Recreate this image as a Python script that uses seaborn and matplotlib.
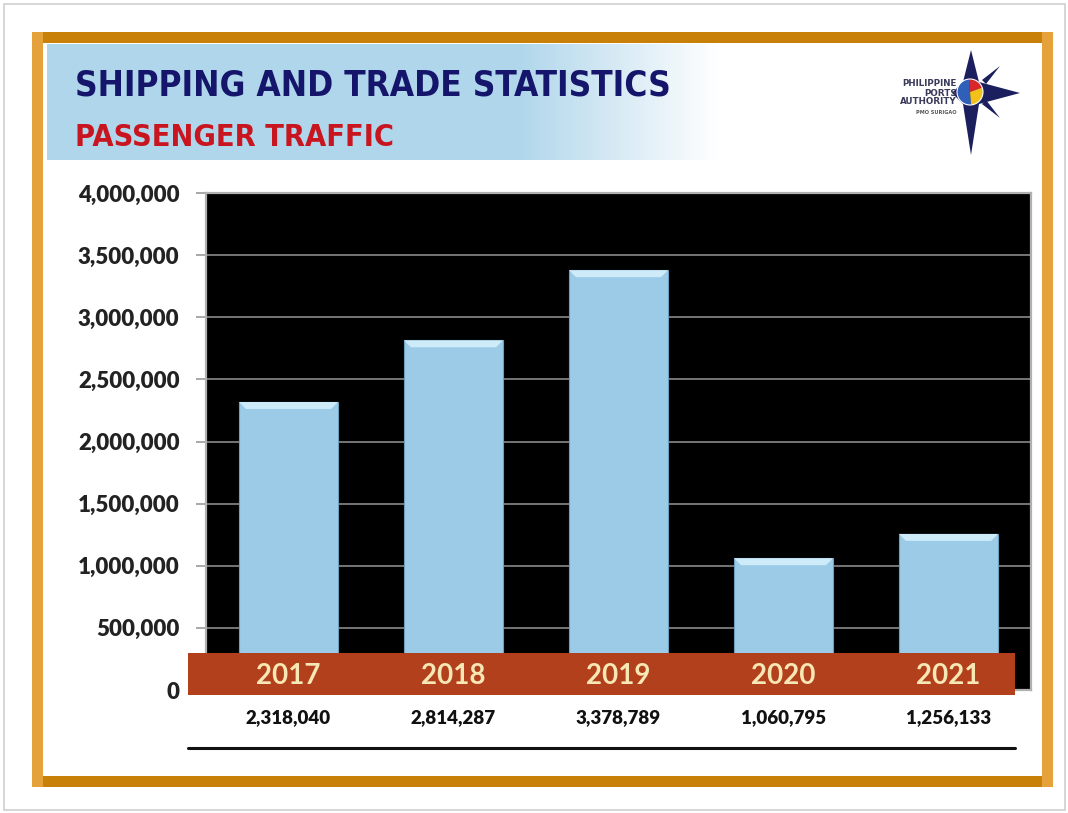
import numpy as np
import pandas as pd
import matplotlib
matplotlib.use("Agg")
import matplotlib.pyplot as plt
import matplotlib.transforms as mtransforms
from matplotlib.patches import Rectangle, Polygon, Wedge, Circle
from matplotlib.lines import Line2D
from matplotlib.ticker import FuncFormatter
import seaborn as sns

# Passenger traffic by year
years = ["2017", "2018", "2019", "2020", "2021"]
passengers = [2318040, 2814287, 3378789, 1060795, 1256133]
y_ticks = [0, 500000, 1000000, 1500000, 2000000, 2500000, 3000000, 3500000, 4000000]

title_main = "SHIPPING AND TRADE STATISTICS"
title_sub = "PASSENGER TRAFFIC"
logo_lines = ["PHILIPPINE", "PORTS", "AUTHORITY"]
logo_office = "PMO SURIGAO"

W, H = 1068, 813
sns.set_theme(style="white")
plt.rcParams["font.family"] = ["Lato", "DejaVu Sans"]

fig = plt.figure(figsize=(W / 100, H / 100), dpi=100)
fig.patch.set_facecolor("white")


def fy(y):
    return H - y


# ---- page background, frame and header -------------------------------------
bg = fig.add_axes([0, 0, 1, 1], zorder=-1)
bg.set_xlim(0, W)
bg.set_ylim(0, H)
bg.axis("off")

bg.add_patch(Rectangle((4, fy(810)), 1061, 806, fill=False, ec="#cfcfcf", lw=1.2))

gold_dark = "#c98009"
gold_light = "#e6a23a"
bg.add_patch(Rectangle((32, fy(43)), 1021, 11, fc=gold_dark, ec="none"))
bg.add_patch(Rectangle((32, fy(787)), 1021, 11, fc=gold_dark, ec="none"))
bg.add_patch(Rectangle((32, fy(787)), 11, 755, fc=gold_light, ec="none"))
bg.add_patch(Rectangle((1042, fy(787)), 11, 755, fc=gold_light, ec="none"))

# header band: light blue fading to white on the right
x0, x1, ytop, ybot = 47, 720, 45, 160
ncol = 400
xs = np.linspace(0, 1, ncol)
fade = np.clip((xs - 0.70) / 0.30, 0, 1)
base = np.array([0.69, 0.84, 0.92])
row = base[None, :] * (1 - fade[:, None]) + np.ones(3)[None, :] * fade[:, None]
grad = np.repeat(row[None, :, :], 2, axis=0)
bg.imshow(grad, extent=[x0, x1, fy(ybot), fy(ytop)], aspect="auto", zorder=1)

title_family = ["DejaVu Sans"]
bg.text(75, fy(95), title_main, color="#15166b", fontsize=25.2, fontweight="bold",
        fontstretch="condensed", family=title_family, va="baseline", ha="left", zorder=3)
bg.text(75, fy(146), title_sub, color="#c8151f", fontsize=22, fontweight="bold",
        fontstretch="condensed", family=title_family, va="baseline", ha="left", zorder=3)

# logo: compass star with round emblem
navy = "#1b1f5e"
cx, cy = 972, 92
star = [(971, fy(50)), (979, fy(82)), (1020, fy(93)), (979, fy(104)),
        (971, fy(155)), (963, fy(104)), (952, fy(93)), (963, fy(82))]
bg.add_patch(Polygon(star, closed=True, fc=navy, ec="none", zorder=2))
bg.add_patch(Polygon([(982, fy(80)), (1000, fy(66)), (986, fy(84))], fc=navy, ec="none", zorder=2))
bg.add_patch(Polygon([(982, fy(104)), (1000, fy(118)), (986, fy(100))], fc=navy, ec="none", zorder=2))
bg.add_patch(Wedge((cx - 2, fy(cy)), 13, 95, 275, fc="#2f5fb8", ec="none", zorder=3))
bg.add_patch(Wedge((cx - 2, fy(cy)), 13, 20, 95, fc="#d8262b", ec="none", zorder=3))
bg.add_patch(Wedge((cx - 2, fy(cy)), 13, -85, 20, fc="#f2c21a", ec="none", zorder=3))
bg.add_patch(Circle((cx - 2, fy(cy)), 13, fill=False, ec="white", lw=0.8, zorder=4))
for i, t in enumerate(logo_lines):
    bg.text(957, fy(84 + 9 * i), t, fontsize=6.3, fontweight="bold", color="#3a3a5a",
            ha="right", va="center", family=["DejaVu Sans"], zorder=5)
bg.text(936, fy(112), logo_office, fontsize=3.6, fontweight="bold", color="#555555",
        ha="center", va="center", family=["DejaVu Sans"], zorder=5)

# ---- bar chart ---------------------------------------------------------------
ax_left, ax_right, ax_top, ax_bot = 206, 1031, 193, 690
ax = fig.add_axes([ax_left / W, 1 - ax_bot / H, (ax_right - ax_left) / W, (ax_bot - ax_top) / H],
                  zorder=1)
ax.set_facecolor("black")

df = pd.DataFrame({"year": years, "passengers": passengers})
sns.barplot(data=df, x="year", y="passengers", color="#9ccbe7", saturation=1,
            width=0.6, edgecolor="#6f9fbf", linewidth=0.8, ax=ax, zorder=3)

ax.set_ylim(0, 4000000)
ax.set_xlim(-0.5, len(years) - 0.5)
ax.set_yticks(y_ticks)
ax.yaxis.set_major_formatter(FuncFormatter(lambda v, p: f"{int(v):,}"))
ax.yaxis.grid(True, color="#8a8a8a", lw=1.2, zorder=0)
ax.xaxis.grid(False)
ax.set_axisbelow(True)
ax.set_xlabel("")
ax.set_ylabel("")
ax.set_xticks([])
ax.tick_params(axis="y", left=True, length=7, width=1.2, color="#9a9a9a", pad=12,
               labelsize=16, labelcolor="#222222")
for lab in ax.get_yticklabels():
    lab.set_fontweight("heavy")
for s in ax.spines.values():
    s.set_color("#b0b0b0")
    s.set_linewidth(1.6)

# lighter bevel along the top of each bar
px_per_y = (ax_bot - ax_top) / 4000000
px_per_x = (ax_right - ax_left) / len(years)
dy = 7 / px_per_y
dx = 7 / px_per_x
for p in ax.patches:
    bx0 = p.get_x()
    bx1 = bx0 + p.get_width()
    h = p.get_height()
    ax.add_patch(Polygon([(bx0, h), (bx1, h), (bx1 - dx, h - dy), (bx0 + dx, h - dy)],
                         closed=True, fc="#cdebf8", ec="none", zorder=4))

# ---- category band, value labels, rule -----------------------------------------
band = Rectangle((188 / W, 1 - 695 / H), (1015 - 188) / W, (695 - 653) / H,
                 transform=fig.transFigure, fc="#b3401d", ec="none", zorder=5)
fig.add_artist(band)

blend = mtransforms.blended_transform_factory(ax.transData, fig.transFigure)
for i, (yr, v) in enumerate(zip(years, passengers)):
    fig.text(i, 1 - 676 / H, yr, transform=blend, ha="center", va="center",
             fontsize=20, fontweight="bold", color="#f6e7b4", zorder=6)
    fig.text(i, 1 - 718 / H, f"{v:,}", transform=blend, ha="center", va="center",
             fontsize=13.5, fontweight="heavy", color="#111111", zorder=6)

fig.add_artist(Line2D([188 / W, 1015 / W], [1 - 748 / H, 1 - 748 / H],
                      transform=fig.transFigure, color="#111111", lw=2.2, zorder=5))

fig.savefig("out.png", dpi=100, facecolor="white")
